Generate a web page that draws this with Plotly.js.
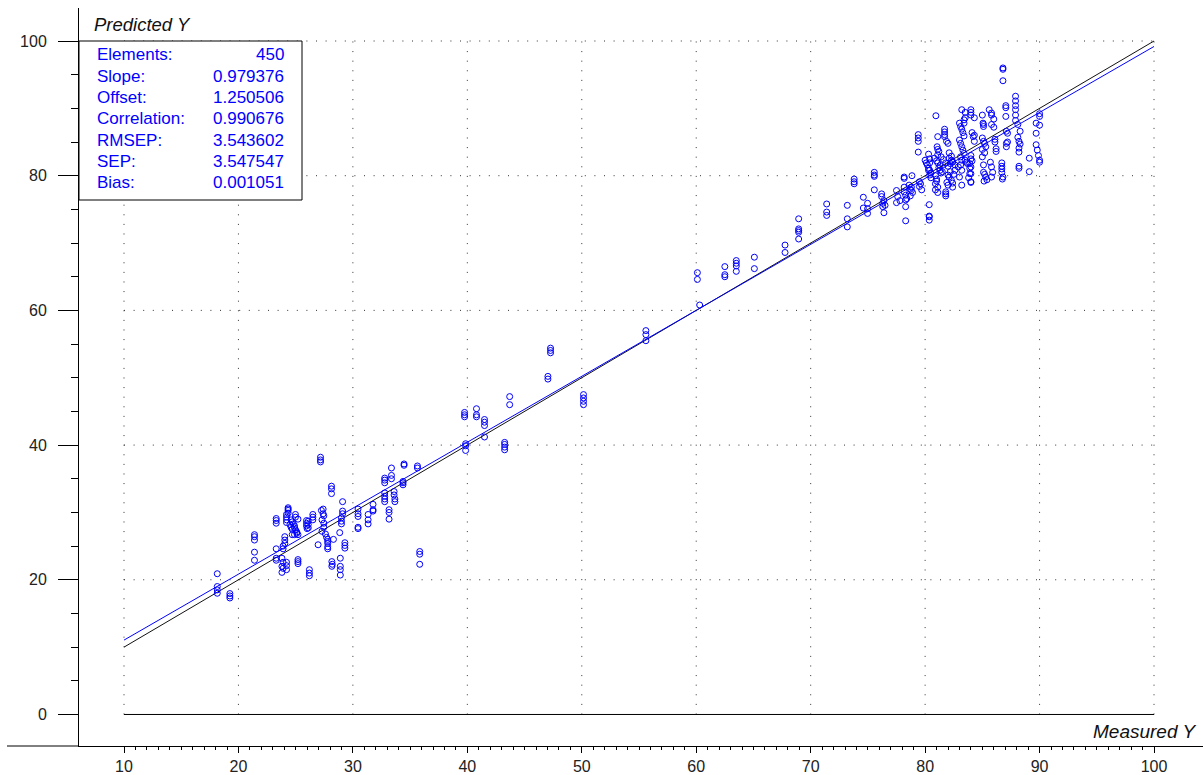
<!DOCTYPE html>
<html>
<head>
<meta charset="utf-8">
<script src="https://cdn.plot.ly/plotly-3.0.1.min.js"></script>
<style>html,body{margin:0;padding:0;background:#fff;}</style>
</head>
<body>
<div id="chart" style="width:1203px;height:775px;"></div>
<script>
// ---- Data: [Measured Y, Predicted Y] ----
const lowCluster = [
  [18.15,20.9],[18.15,19.0],[18.15,18.5],[18.15,18.0],
  [19.25,17.95],[19.25,17.6],[19.25,17.3],
  [21.4,26.7],[21.4,26.4],[21.4,25.9],[21.4,24.1],[21.4,22.9],
  [23.3,29.1],[23.3,28.8],[23.3,28.4],[23.3,24.6],[23.3,23.2],[23.3,22.9],
  [23.8,23.2],[23.8,22.0],[23.8,21.1],[23.9,22.6],[23.9,21.7],
  [24.05,26.4],[24.05,25.9],[24.05,25.4],[23.9,25.0],[23.9,24.6],
  [24.2,22.6],[24.2,22.1],[24.2,21.5],
  [24.2,29.7],[24.2,29.3],[24.2,28.9],[24.2,28.5],
  [24.34,30.7],[24.34,30.3],[24.34,29.9],[24.34,30.5],
  [24.6,28.9],[24.7,28.6],[24.8,28.3],[24.9,28.0],[24.9,27.7],[25.0,27.4],[25.1,27.1],
  [24.5,28.2],[24.6,27.8],[24.7,27.5],
  [24.98,29.7],[24.98,29.3],[25.2,29.0],
  [24.7,26.7],[24.9,26.7],[25.1,26.9],[25.2,26.7],
  [25.2,23.0],[25.2,22.7],[25.2,22.4],
  [25.95,28.8],[25.95,28.4],[25.95,28.0],[26.0,27.6],
  [26.1,28.7],[26.1,28.2],[26.1,27.7],
  [26.5,29.7],[26.5,29.3],[26.5,28.9],
  [26.2,21.5],[26.2,21.0],[26.2,20.6],
  [26.96,25.2],
  [27.17,38.2],[27.17,37.8],[27.17,37.5],
  [27.25,30.3],[27.4,30.5],[27.4,29.8],[27.46,29.5],[27.3,28.9],[27.46,28.4],[27.46,27.8],
  [27.3,27.2],[27.6,26.8],[27.7,26.3],[27.8,26.0],[27.8,25.7],[27.8,25.4],[27.8,24.9],[27.8,24.6],
  [28.13,33.9],[28.13,33.5],[28.13,32.8],
  [28.16,22.7],[28.2,22.3],[28.16,22.0],
  [28.3,26.0],[28.85,27.0],
  [28.9,23.2],[28.9,22.0],[28.9,21.5],[28.9,20.7],
  [29.0,29.2],[29.0,28.7],[29.0,28.3],
  [29.1,31.6],[29.1,30.2],[29.1,29.8],
  [29.3,25.5],[29.3,25.1],[29.3,24.7],
  [30.45,30.5],[30.45,29.8],[30.45,29.4],[30.45,27.8],[30.45,27.6],
  [31.33,29.7],[31.33,28.9],[31.33,28.3],
  [31.76,31.2],[31.76,30.4],[31.76,30.2],
  [32.78,35.1],[32.78,34.8],[32.78,34.4],[32.78,32.9],[32.78,32.4],[32.78,32.0],[32.78,31.6],
  [33.16,30.4],[33.16,30.0],[33.16,29.0],
  [33.37,36.6],[33.37,35.5],[33.37,35.0],
  [33.6,33.1],[33.6,32.6],[33.67,32.0],[33.67,31.6],
  [34.38,34.6],[34.38,34.4],[34.38,34.1],
  [34.47,37.2],[34.47,37.0],
  [35.64,36.9],[35.64,36.6],
  [35.84,24.2],[35.84,23.8],[35.84,22.3]
];
const midCluster = [
  [39.76,44.85],[39.76,44.5],[39.76,44.2],
  [39.85,40.2],[39.85,39.9],[39.85,39.2],
  [40.8,45.4],[40.8,44.5],[40.8,44.2],
  [41.5,43.8],[41.5,43.4],[41.5,42.9],[41.5,41.2],
  [43.26,40.4],[43.26,40.1],[43.26,39.7],[43.26,39.3],
  [43.7,47.2],[43.7,46.0],
  [47.04,50.2],[47.04,49.8],
  [47.27,54.4],[47.27,54.05],[47.27,53.7],
  [50.15,47.5],[50.15,47.0],[50.15,46.5],[50.15,46.0],
  [55.6,57.0],[55.6,56.4],[55.6,55.5],
  [60.1,65.6],[60.1,64.6],[60.3,60.8]
];
const highCluster = [
  [62.5,66.5],[62.5,65.3],[62.5,65.0],
  [63.5,67.4],[63.5,67.0],[63.5,66.6],[63.5,65.8],
  [65.08,67.9],[65.08,66.2],
  [67.76,69.7],[67.76,68.6],
  [68.95,73.6],[68.95,72.1],[68.95,71.85],[68.95,71.6],[68.95,70.6],
  [71.4,75.8],[71.4,74.6],[71.4,74.1],
  [73.2,75.6],[73.2,73.6],[73.2,72.4],
  [73.8,79.5],[73.8,79.1],[73.8,78.8],
  [74.6,76.8],[74.6,75.2],
  [74.97,75.9],[74.97,75.1],[74.97,74.4],
  [75.56,80.5],[75.56,80.1],[75.56,79.9],[75.56,77.9],
  [76.2,77.3],[76.3,75.9],[76.3,75.4],[76.4,74.5],
  [76.2,76.9],[76.4,76.3],[76.5,75.6],
  [77.5,77.8],[77.6,76.9],[77.5,76.0],[77.8,76.3],
  [78.17,79.8],[78.17,79.6],[78.17,78.3],[78.17,77.6],
  [78.3,76.4],[78.3,75.4],[78.3,73.3],[78.3,77.1],[78.4,76.6],
  [78.6,78.6],[78.7,78.0],[78.8,78.3],[78.9,77.5],[78.7,77.0],[78.85,80.0],[78.8,77.8],
  [79.4,86.1],[79.4,85.6],[79.4,85.1],[79.4,83.5],
  [79.5,79.1],[79.5,78.4],[79.6,78.8],[79.7,77.9],
  [80.0,82.3],[80.1,81.9],[80.2,81.6],[80.3,81.1],[80.4,80.8],[80.5,80.4],
  [80.3,83.2],[80.4,82.5],[80.4,81.9],[80.3,80.8],[80.4,80.1],[80.5,79.7],
  [80.36,75.7],[80.36,74.0],[80.36,73.9],[80.36,73.4],
  [80.94,88.9],
  [81.1,85.8],[81.05,84.3],[81.1,83.9],[81.2,83.6],[81.1,83.1],
  [80.8,82.6],[81.0,82.2],[81.1,81.9],[81.3,81.5],[81.2,81.2],[81.3,80.8],[81.4,80.4],[81.5,80.6],
  [80.9,80.0],[81.0,79.5],[81.0,79.2],[80.9,78.8],[81.1,78.3],[80.9,77.9],[81.1,77.5],
  [81.7,86.9],[81.7,86.5],[81.7,86.1],[81.7,85.8],
  [81.87,85.1],[82.0,84.8],
  [82.1,83.4],[82.3,82.9],[82.1,82.6],[82.3,82.3],[82.4,82.0],
  [82.0,80.1],[82.1,79.8],[82.3,79.3],[82.4,78.9],[82.4,78.3],
  [81.8,77.6],[81.8,77.3],[81.8,77.0],
  [81.9,79.0],[82.0,78.6],
  [81.4,82.8],[81.6,82.4],[81.8,81.9],[82.0,81.4],[82.2,81.8],[82.4,82.1],[82.6,81.6],[82.6,80.8],[82.9,81.3],[82.2,80.6],[82.5,80.2],
  [83.0,87.8],[83.1,87.3],[83.2,86.9],[83.3,86.4],[83.4,85.9],
  [83.4,88.3],[83.4,87.8],
  [83.2,89.8],[83.5,89.4],[83.5,88.6],
  [83.0,85.3],[83.1,84.8],[83.2,84.3],[83.3,83.8],[83.4,83.3],[83.1,82.8],[83.2,82.3],[83.6,82.0],[83.1,81.6],[83.2,80.8],[83.0,79.8],[83.2,78.6],
  [83.5,82.3],[83.7,81.8],[83.9,81.1],[83.9,80.3],[83.8,79.7],[84.0,79.0],
  [84.0,89.8],[84.0,89.4],[84.0,89.0],[84.3,88.6],
  [84.1,86.4],[84.2,85.8],[84.3,85.1],[84.3,86.0],
  [84.0,83.0],[84.0,82.5],[84.1,82.2],[83.9,81.8],[84.0,81.3],[84.0,80.3],[84.0,79.1],
  [85.0,89.0],[85.06,87.8],[85.1,87.6],[85.1,87.3],
  [85.0,85.6],[85.1,85.1],[85.2,84.8],[85.3,84.3],[85.0,83.9],[85.2,83.4],[85.0,82.8],
  [85.1,81.6],[85.1,80.5],[85.2,80.2],[85.3,79.8],[85.4,79.4],[85.15,79.2],
  [85.6,89.8],[85.8,89.3],[86.0,88.4],[85.8,89.0],
  [85.8,87.6],[86.0,87.2],
  [85.7,82.0],[85.8,81.3],[85.9,80.5],[85.8,79.8],
  [86.1,85.4],[86.1,85.0],[86.2,84.0],[86.2,83.6],
  [86.7,81.9],[86.7,81.4],[86.7,81.0],[86.7,80.5],[86.8,79.8],[86.75,79.5],
  [86.8,96.0],[86.8,95.8],[86.8,94.1],
  [87.05,90.4],[87.05,90.1],[87.05,88.8],
  [87.1,86.6],[87.1,84.8],[87.1,84.3],[87.2,86.3],[87.2,85.0],
  [87.9,91.8],[87.9,91.1],[87.9,90.4],[87.9,89.8],[87.9,89.0],[87.9,88.2],
  [88.1,87.6],[88.3,86.6],[88.1,85.7],
  [88.2,85.1],[88.3,84.7],[88.2,84.1],[88.2,83.5],[88.2,81.4],[88.2,81.1],
  [89.1,82.6],[89.1,80.6],
  [89.7,87.8],[89.7,86.3],[89.7,84.6],[89.8,83.8],
  [90.0,89.2],[90.0,88.8],[90.0,87.5],[90.0,82.3],[90.0,82.0],[89.9,83.0]
];

const xTicks = [10,20,30,40,50,60,70,80,90,100];
const yTicks = [0,20,40,60,80,100];
const statLabels = ['Elements:','Slope:','Offset:','Correlation:','RMSEP:','SEP:','Bias:'];
const statValues = ['450','0.979376','1.250506','0.990676','3.543602','3.547547','0.001051'];
const fitSlope = 0.979376;
const fitOffset = 1.250506;
const lineEnds = [10, 100];
const xTitle = 'Measured Y';
const yTitle = 'Predicted Y';

// ---- Build traces ----
const all = lowCluster.concat(midCluster, highCluster);
const measured = all.map(p => p[0]);
const predicted = all.map(p => p[1]);

const FONT = 'Liberation Sans, Arial, sans-serif';

const traces = [
  { x: lineEnds, y: [0, 0], mode: 'lines', line: {color: '#000', width: 1}, hoverinfo: 'skip', showlegend: false },
  { x: lineEnds, y: lineEnds.slice(), mode: 'lines', line: {color: '#111', width: 1}, hoverinfo: 'skip', showlegend: false },
  { x: lineEnds, y: lineEnds.map(v => fitSlope * v + fitOffset), mode: 'lines', line: {color: '#0000ff', width: 1}, hoverinfo: 'skip', showlegend: false },
  { x: measured, y: predicted, mode: 'markers', type: 'scatter',
    marker: {symbol: 'circle-open', size: 6, color: '#0000ff', line: {width: 1, color: '#0000ff'}},
    showlegend: false }
];

// ---- Layout geometry ----
const W = 1203, H = 775;
const L = 79, R = 0, T = 8, B = 29;
const pw = W - L - R, ph = H - T - B;
const px2paperX = px => (px - L) / pw;
const py2paperY = py => (H - B - py) / ph;

const shapes = [];
xTicks.forEach(v => shapes.push({type: 'line', xref: 'x', yref: 'y', x0: v, x1: v, y0: yTicks[0], y1: yTicks[yTicks.length-1],
  line: {color: '#333', width: 1, dash: '1px,8.6px'}, layer: 'below'}));
yTicks.slice(1).forEach(v => shapes.push({type: 'line', xref: 'x', yref: 'y', x0: xTicks[0], x1: xTicks[xTicks.length-1], y0: v, y1: v,
  line: {color: '#333', width: 1, dash: '1px,8.6px'}, layer: 'below'}));
shapes.push({type: 'line', xref: 'paper', yref: 'paper', x0: px2paperX(7), x1: 0, y0: 0, y1: 0, line: {color: '#000', width: 1}});
shapes.push({type: 'rect', xref: 'paper', yref: 'paper', x0: 0, x1: px2paperX(302), y0: py2paperY(200), y1: py2paperY(41),
  fillcolor: '#ffffff', line: {color: '#000', width: 1}, layer: 'above'});

const annotations = [];
statLabels.forEach((s, i) => {
  const py = 55 + i * 21.3;
  annotations.push({xref: 'paper', yref: 'paper', x: px2paperX(95), y: py2paperY(py), xanchor: 'left', yanchor: 'middle',
    text: s, showarrow: false, font: {family: FONT, size: 17, color: '#0000ff'}});
  annotations.push({xref: 'paper', yref: 'paper', x: px2paperX(286), y: py2paperY(py), xanchor: 'right', yanchor: 'middle',
    text: statValues[i], showarrow: false, font: {family: FONT, size: 17, color: '#0000ff'}});
});
annotations.push({xref: 'paper', yref: 'paper', x: px2paperX(92), y: py2paperY(25), xanchor: 'left', yanchor: 'middle',
  text: '<i>' + yTitle + '</i>', showarrow: false, font: {family: FONT, size: 18.5, color: '#111'}});
annotations.push({xref: 'paper', yref: 'paper', x: px2paperX(1198), y: py2paperY(731), xanchor: 'right', yanchor: 'middle',
  text: '<i>' + xTitle + '</i>', showarrow: false, font: {family: FONT, size: 19, color: '#111'}});

const xMinor = [];
for (let v = xTicks[0]; v < xTicks[xTicks.length-1]; v++) if (v % 10 !== 0) xMinor.push(v);
const yMinor = [];
for (let v = yTicks[0]; v < yTicks[yTicks.length-1]; v += 5) if (v % 20 !== 0) yMinor.push(v);

const layout = {
  width: W, height: H,
  margin: {l: L, r: R, t: T, b: B, pad: 0},
  paper_bgcolor: '#ffffff', plot_bgcolor: '#ffffff',
  showlegend: false,
  font: {family: FONT, size: 16, color: '#000'},
  xaxis: {
    range: [6.068, 104.28], showgrid: false, zeroline: false,
    showline: true, linecolor: '#000', linewidth: 1,
    tickmode: 'array', tickvals: xTicks, ticktext: xTicks.map(String),
    ticks: 'outside', ticklen: 6, tickcolor: '#000', tickwidth: 1,
    tickfont: {family: FONT, size: 16, color: '#222'},
    minor: {tickmode: 'array', tickvals: xMinor, ticks: 'outside', ticklen: 3, tickcolor: '#000', tickwidth: 1, showgrid: false}
  },
  yaxis: {
    range: [-4.68, 104.9], showgrid: false, zeroline: false,
    showline: true, linecolor: '#000', linewidth: 1,
    tickmode: 'array', tickvals: yTicks, ticktext: yTicks.map(String),
    ticks: 'outside', ticklen: 20, tickcolor: '#000', tickwidth: 1,
    ticklabelstandoff: 8,
    tickfont: {family: FONT, size: 16, color: '#222'},
    minor: {tickmode: 'array', tickvals: yMinor, ticks: 'outside', ticklen: 7, tickcolor: '#000', tickwidth: 1, showgrid: false}
  },
  shapes: shapes,
  annotations: annotations
};

Plotly.newPlot('chart', traces, layout, {displayModeBar: false, staticPlot: true});
</script>
</body>
</html>
